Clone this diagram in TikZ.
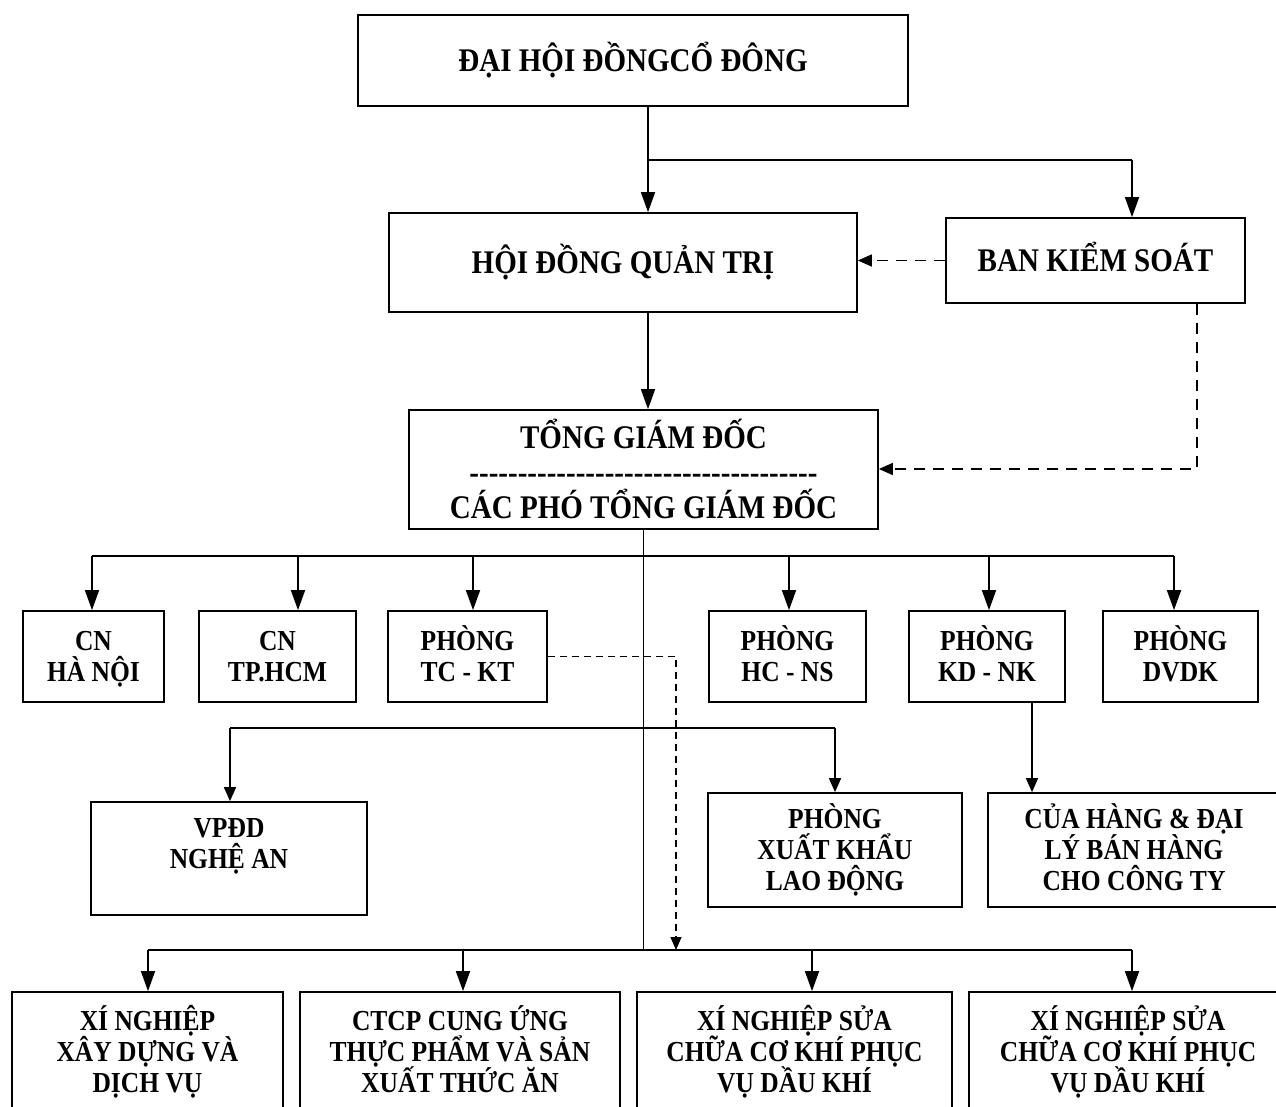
\documentclass[tikz,border=0pt]{standalone}
\usepackage{fontspec}
\setmainfont{Liberation Serif}[FakeStretch=0.88]
\usetikzlibrary{arrows.meta}
\newcommand\dfive{\mbox{-}\mbox{-}\mbox{-}\mbox{-}\mbox{-}}
\newcommand\sst{\rule[-9pt]{0pt}{37pt}}
\newcommand\bst{\rule[-10.2pt]{0pt}{42.2pt}}
\newcommand\tst{\rule[-10.2pt]{0pt}{48.5pt}}
\newcommand\smallfnt{\bfseries\fontsize{29}{31}\selectfont\lineskiplimit -1000pt\relax}
\newcommand\bigfnt{\bfseries\fontsize{33}{35}\selectfont\lineskiplimit -1000pt\relax}
\begin{document}
\begin{tikzpicture}[x=1pt,y=-1pt,
  box/.style={draw, line width=1.7pt, align=center, inner sep=0pt, font=\smallfnt},
  bigbox/.style={box, font=\bigfnt},
  conn/.style={line width=1.6pt},
  arr/.style={conn, -{Triangle[length=20pt,width=14pt]}},
  sarr/.style={conn, -{Triangle[length=14pt,width=12pt]}},
  darr/.style={line width=1.4pt, dash pattern=on 11pt off 8pt, -{Triangle[length=14pt,width=12pt]}},
  ddarr/.style={line width=1.1pt, dash pattern=on 7pt off 5pt, -{Triangle[length=13pt,width=11pt]}}]
\fill[white] (0,0) rectangle (1276,1107);
\useasboundingbox (0,0) rectangle (1276,1107);

% boxes
\node[bigbox, minimum width=550pt, minimum height=91pt] (dh) at (633,60.5) {\bst ĐẠI HỘI ĐỒNGCỔ ĐÔNG};
\node[bigbox, minimum width=468pt, minimum height=99pt] (hd) at (623,262.5) {\bst HỘI ĐỒNG QUẢN TRỊ};
\node[bigbox, minimum width=299pt, minimum height=85pt] (bks) at (1095.5,260.5) {\bst BAN KIỂM SOÁT};
\node[bigbox, minimum width=469pt, minimum height=119pt] (tgd) at (643.5,469.5)
  {\tst TỔNG GIÁM ĐỐC\\\dfive\dfive\dfive\dfive\dfive\dfive\dfive\mbox{-}\\\tst CÁC PHÓ TỔNG GIÁM ĐỐC};

\node[box, minimum width=141pt, minimum height=91pt] (cnhn) at (93.5,656.5) {\sst CN\\\sst HÀ NỘI};
\node[box, minimum width=157pt, minimum height=91pt] (cnhcm) at (277.5,656.5) {\sst CN\\\sst TP.HCM};
\node[box, minimum width=159pt, minimum height=91pt] (tckt) at (467.5,656.5) {\sst PHÒNG\\\sst TC - KT};
\node[box, minimum width=157pt, minimum height=91pt] (hcns) at (787.5,656.5) {\sst PHÒNG\\\sst HC - NS};
\node[box, minimum width=156pt, minimum height=91pt] (kdnk) at (987,656.5) {\sst PHÒNG\\\sst KD - NK};
\node[box, minimum width=155pt, minimum height=91pt] (dvdk) at (1180.5,656.5) {\sst PHÒNG\\\sst DVDK};

\node[box, minimum width=276pt, minimum height=113pt] (vpdd) at (229,858.5) {\sst VPĐD\\\sst NGHỆ AN\\\sst};
\node[box, minimum width=254pt, minimum height=114pt] (xkld) at (835,850) {\sst PHÒNG\\\sst XUẤT KHẨU\\\sst LAO ĐỘNG};
\node[box, minimum width=292pt, minimum height=114pt] (ch) at (1134,850) {\sst CỦA HÀNG \& ĐẠI\\\sst LÝ BÁN HÀNG\\\sst CHO CÔNG TY};

\node[box, minimum width=271pt, minimum height=120pt] (xnxd) at (147.5,1052) {\sst XÍ NGHIỆP\\\sst XÂY DỰNG VÀ\\\sst DỊCH VỤ};
\node[box, minimum width=320pt, minimum height=120pt] (ctcp) at (460,1052) {\sst CTCP CUNG ỨNG\\\sst THỰC PHẨM VÀ SẢN\\\sst XUẤT THỨC ĂN};
\node[box, minimum width=315pt, minimum height=120pt] (xns1) at (794.5,1052) {\sst XÍ NGHIỆP SỬA\\\sst CHỮA CƠ KHÍ PHỤC\\\sst VỤ DẦU KHÍ};
\node[box, minimum width=318pt, minimum height=120pt] (xns2) at (1128,1052) {\sst XÍ NGHIỆP SỬA\\\sst CHỮA CƠ KHÍ PHỤC\\\sst VỤ DẦU KHÍ};

% top connectors
\coordinate (j1) at (648,160);
\coordinate (j2) at (1132,160);
\draw[conn] (dh.south -| j1) -- (j1) -- (j2);
\draw[arr] (j1) -- (j1 |- hd.north);
\draw[arr] (j2) -- (j2 |- bks.north);
\draw[darr] (bks.west) -- (bks.west -| hd.east);
\draw[arr] (hd.south -| j1) -- (tgd.north -| j1);
\coordinate (j3) at (1197,469);
\draw[darr] (bks.south -| j3) -- (j3) -- (j3 -| tgd.east);

% trunk
\coordinate (t3) at (643,950);
\draw[line width=1pt] (tgd.south -| t3) -- (t3);

% bus 1
\coordinate (b1) at (92,556);
\coordinate (b2) at (298,556);
\coordinate (b3) at (473,556);
\coordinate (b4) at (789,556);
\coordinate (b5) at (989,556);
\coordinate (b6) at (1174,556);
\draw[conn] (b1) -- (b6);
\draw[arr] (b1) -- (b1 |- cnhn.north);
\draw[arr] (b2) -- (b2 |- cnhcm.north);
\draw[arr] (b3) -- (b3 |- tckt.north);
\draw[arr] (b4) -- (b4 |- hcns.north);
\draw[arr] (b5) -- (b5 |- kdnk.north);
\draw[arr] (b6) -- (b6 |- dvdk.north);

% bus 2
\coordinate (c1) at (230,728);
\coordinate (c2) at (835,728);
\draw[line width=1.3pt] (c1) -- (c2);
\draw[sarr] (c1) -- (c1 |- vpdd.north);
\draw[sarr] (c2) -- (c2 |- xkld.north);

% KD-NK to cua hang
\coordinate (k1) at (1032,750);
\draw[sarr] (kdnk.south -| k1) -- (ch.north -| k1);

% dashed from TC-KT
\coordinate (d1) at (676,656.5);
\coordinate (d2) at (676,950);
\draw[ddarr] (tckt.east) -- (d1) -- (d2);

% bus 3
\coordinate (e1) at (148,950);
\coordinate (e2) at (463,950);
\coordinate (e3) at (812,950);
\coordinate (e4) at (1132,950);
\draw[conn] (e1) -- (e4);
\draw[arr] (e1) -- (e1 |- xnxd.north);
\draw[arr] (e2) -- (e2 |- ctcp.north);
\draw[arr] (e3) -- (e3 |- xns1.north);
\draw[arr] (e4) -- (e4 |- xns2.north);
\end{tikzpicture}
\end{document}
